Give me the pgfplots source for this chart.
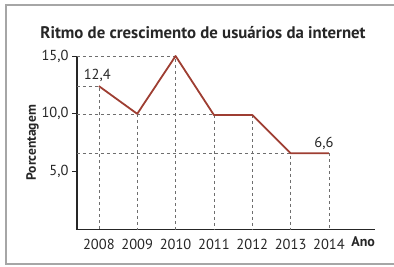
\documentclass[border=0pt]{standalone}
\usepackage{pgfplots}
\pgfplotsset{compat=1.18}
\usepackage{fontspec}
\setmainfont{PT Sans}
\definecolor{linec}{RGB}{158,62,50}
\definecolor{gridc}{RGB}{110,110,110}
\begin{document}
\begin{tikzpicture}
\useasboundingbox (-77pt,-36.5pt) rectangle (317pt,229.5pt);
\draw[gray!70, line width=1.3pt] (317pt,224.5pt) -- (-71pt,224.5pt) -- (-71pt,-34.5pt) -- (317pt,-34.5pt);
\node[anchor=base, font=\fontsize{16.8}{16.8}\selectfont\bfseries, text=black!85] at (126pt,191.5pt) {Ritmo de crescimento de usuários da internet};
\begin{axis}[at={(0,0)}, anchor=south west, scale only axis,
  width=298pt, height=173.5pt,
  xmin=2007.43, xmax=2015.2, ymin=0, ymax=15,
  axis lines=left,
  axis line style={line width=1.1pt, black!85, -},
  xtick={2008,2009,2010,2011,2012,2013,2014},
  xticklabels={2008,2009,2010,2011,2012,2013,2014},
  ytick={5,10,15},
  yticklabels={{5,0},{10,0},{15,0}},
  tick align=outside,
  major tick length=5pt,
  major x tick style={draw=none},
  major y tick style={line width=0.8pt, black!85},
  tick label style={font=\fontsize{14.5}{14.5}\selectfont, text=black!85},
  xticklabel style={yshift=-1pt},
  ylabel={\bfseries Porcentagem},
  ylabel style={font=\fontsize{13.5}{13.5}\selectfont, text=black!85, yshift=-4pt},
  clip=false]
\addplot[gridc, dashed, line width=0.6pt] coordinates {(2007.43,15) (2010,15) (2010,0)};
\addplot[gridc, dashed, line width=0.6pt] coordinates {(2007.43,12.4) (2008,12.4) (2008,0)};
\addplot[gridc, dashed, line width=0.6pt] coordinates {(2007.43,10) (2011,10)};
\addplot[gridc, dashed, line width=0.6pt] coordinates {(2009,10) (2009,0)};
\addplot[gridc, dashed, line width=0.6pt] coordinates {(2011,9.9) (2011,0)};
\addplot[gridc, dashed, line width=0.6pt] coordinates {(2012,9.9) (2012,0)};
\addplot[gridc, dashed, line width=0.6pt] coordinates {(2007.43,6.6) (2013,6.6) (2013,0)};
\addplot[gridc, dashed, line width=0.6pt] coordinates {(2014,6.6) (2014,0)};
\addplot[linec, line width=1.8pt, line join=round] coordinates {
(2008,12.4) (2009,10.0) (2010,15.0) (2011,9.9) (2012,9.9) (2013,6.6) (2014,6.6)};
\node[anchor=base, font=\fontsize{14.5}{14.5}\selectfont, text=black!85] at (axis cs:2007.96,12.93) {12,4};
\node[anchor=base, font=\fontsize{14.5}{14.5}\selectfont, text=black!85] at (axis cs:2013.87,7.05) {6,6};
\node[anchor=base, font=\fontsize{14}{14}\selectfont\bfseries, text=black!85] at (axis cs:2014.89,-1.47) {Ano};
\end{axis}
\end{tikzpicture}
\end{document}
